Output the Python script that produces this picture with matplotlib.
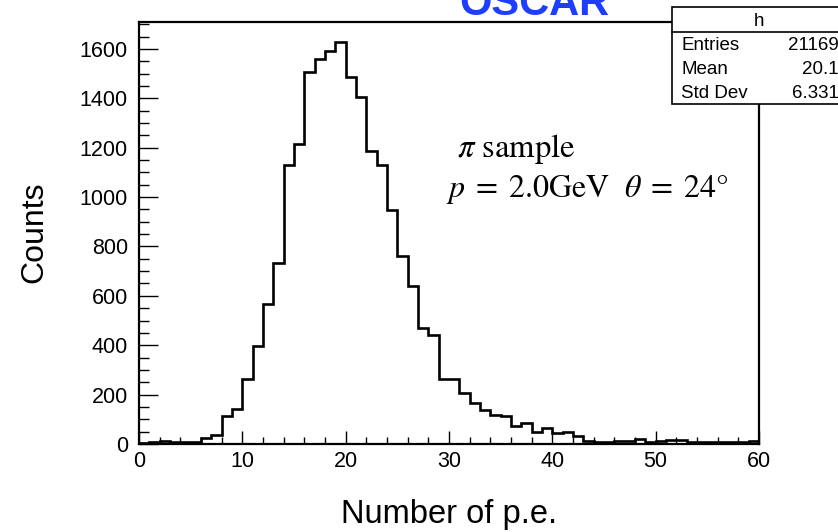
import numpy as np
import matplotlib
matplotlib.use("Agg")
import matplotlib.pyplot as plt
from matplotlib.patches import Rectangle
from matplotlib.ticker import MultipleLocator

# histogram contents, 60 bins of width 1 from 0 to 60
bin_edges = np.arange(0, 61, 1)
counts = [
    5, 8, 13, 8, 8, 8, 23, 35, 115, 143,
    263, 395, 565, 732, 1130, 1214, 1505, 1558, 1593, 1630,
    1488, 1406, 1187, 1130, 946, 762, 638, 469, 440, 263,
    263, 206, 166, 136, 117, 112, 71, 85, 49, 65,
    45, 49, 31, 13, 8, 8, 13, 13, 20, 8,
    11, 18, 18, 8, 8, 8, 8, 8, 8, 13,
]

stat_labels = ["Entries", "Mean", "Std Dev"]
stat_values = ["21169", "20.1", "6.331"]

plt.rcParams['font.family'] = ['Liberation Sans', 'DejaVu Sans']
plt.rcParams['mathtext.fontset'] = 'stix'

W, H = 838, 532
fig = plt.figure(figsize=(W / 100, H / 100), dpi=100)
ax = fig.add_axes([139 / W, 1 - 444 / H, (759 - 139) / W, (444 - 22) / H])

ax.stairs(counts, bin_edges, color="black", linewidth=1.9)

ax.set_xlim(0, 60)
ax.set_ylim(0, 1709)

# ROOT-like ticks: inward, only on left/bottom
ax.xaxis.set_major_locator(MultipleLocator(10))
ax.xaxis.set_minor_locator(MultipleLocator(2))
ax.yaxis.set_major_locator(MultipleLocator(200))
ax.yaxis.set_minor_locator(MultipleLocator(50))
ax.tick_params(axis="x", which="major", direction="in", length=9.5, width=1, labelsize=15.5, pad=5)
ax.tick_params(axis="x", which="minor", direction="in", length=4.8, width=1)
ax.tick_params(axis="y", which="major", direction="in", length=13.5, width=1, labelsize=15.5, pad=8)
ax.tick_params(axis="y", which="minor", direction="in", length=7, width=1)
for s in ax.spines.values():
    s.set_linewidth(1.6)

fig.text(34 / W, 1 - 232 / H, "Counts", rotation=90, ha="center", va="center", fontsize=23)
fig.text(449 / W, 1 - 523 / H, "Number of p.e.", ha="center", va="baseline", fontsize=23.5)

# title, partly cut off at the top
fig.text(534 / W, 1 - 15 / H, "OSCAR", ha="center", va="baseline", fontsize=30,
         fontweight="bold", color="#1f3dff")

# annotation
fig.text(457 / W, 1 - 157 / H, r"$\pi$ sample", ha="left", va="baseline",
         fontsize=23.5, family="STIXGeneral")
fig.text(446 / W, 1 - 197 / H, r"$p\;=\;2.0\mathrm{GeV}\ \ \theta\;=\;24°$",
         ha="left", va="baseline", fontsize=23)

# stats box
box = Rectangle((672 / W, 1 - 104 / H), 180 / W, 97 / H, transform=fig.transFigure,
                facecolor="white", edgecolor="black", linewidth=1.2, zorder=5)
fig.add_artist(box)
fig.add_artist(plt.Line2D([672 / W, 1], [1 - 32 / H, 1 - 32 / H], transform=fig.transFigure,
                          color="black", linewidth=1.2, zorder=6))
fig.text(759 / W, 1 - 26 / H, "h", ha="center", va="baseline", fontsize=13.5, zorder=7)
for i, (lab, val) in enumerate(zip(stat_labels, stat_values)):
    yb = 1 - (50 + i * 24) / H
    fig.text(681 / W, yb, lab, ha="left", va="baseline", fontsize=13.5, zorder=7)
    fig.text(839 / W, yb, val, ha="right", va="baseline", fontsize=13.5, zorder=7)

fig.savefig("out.png", dpi=100)
